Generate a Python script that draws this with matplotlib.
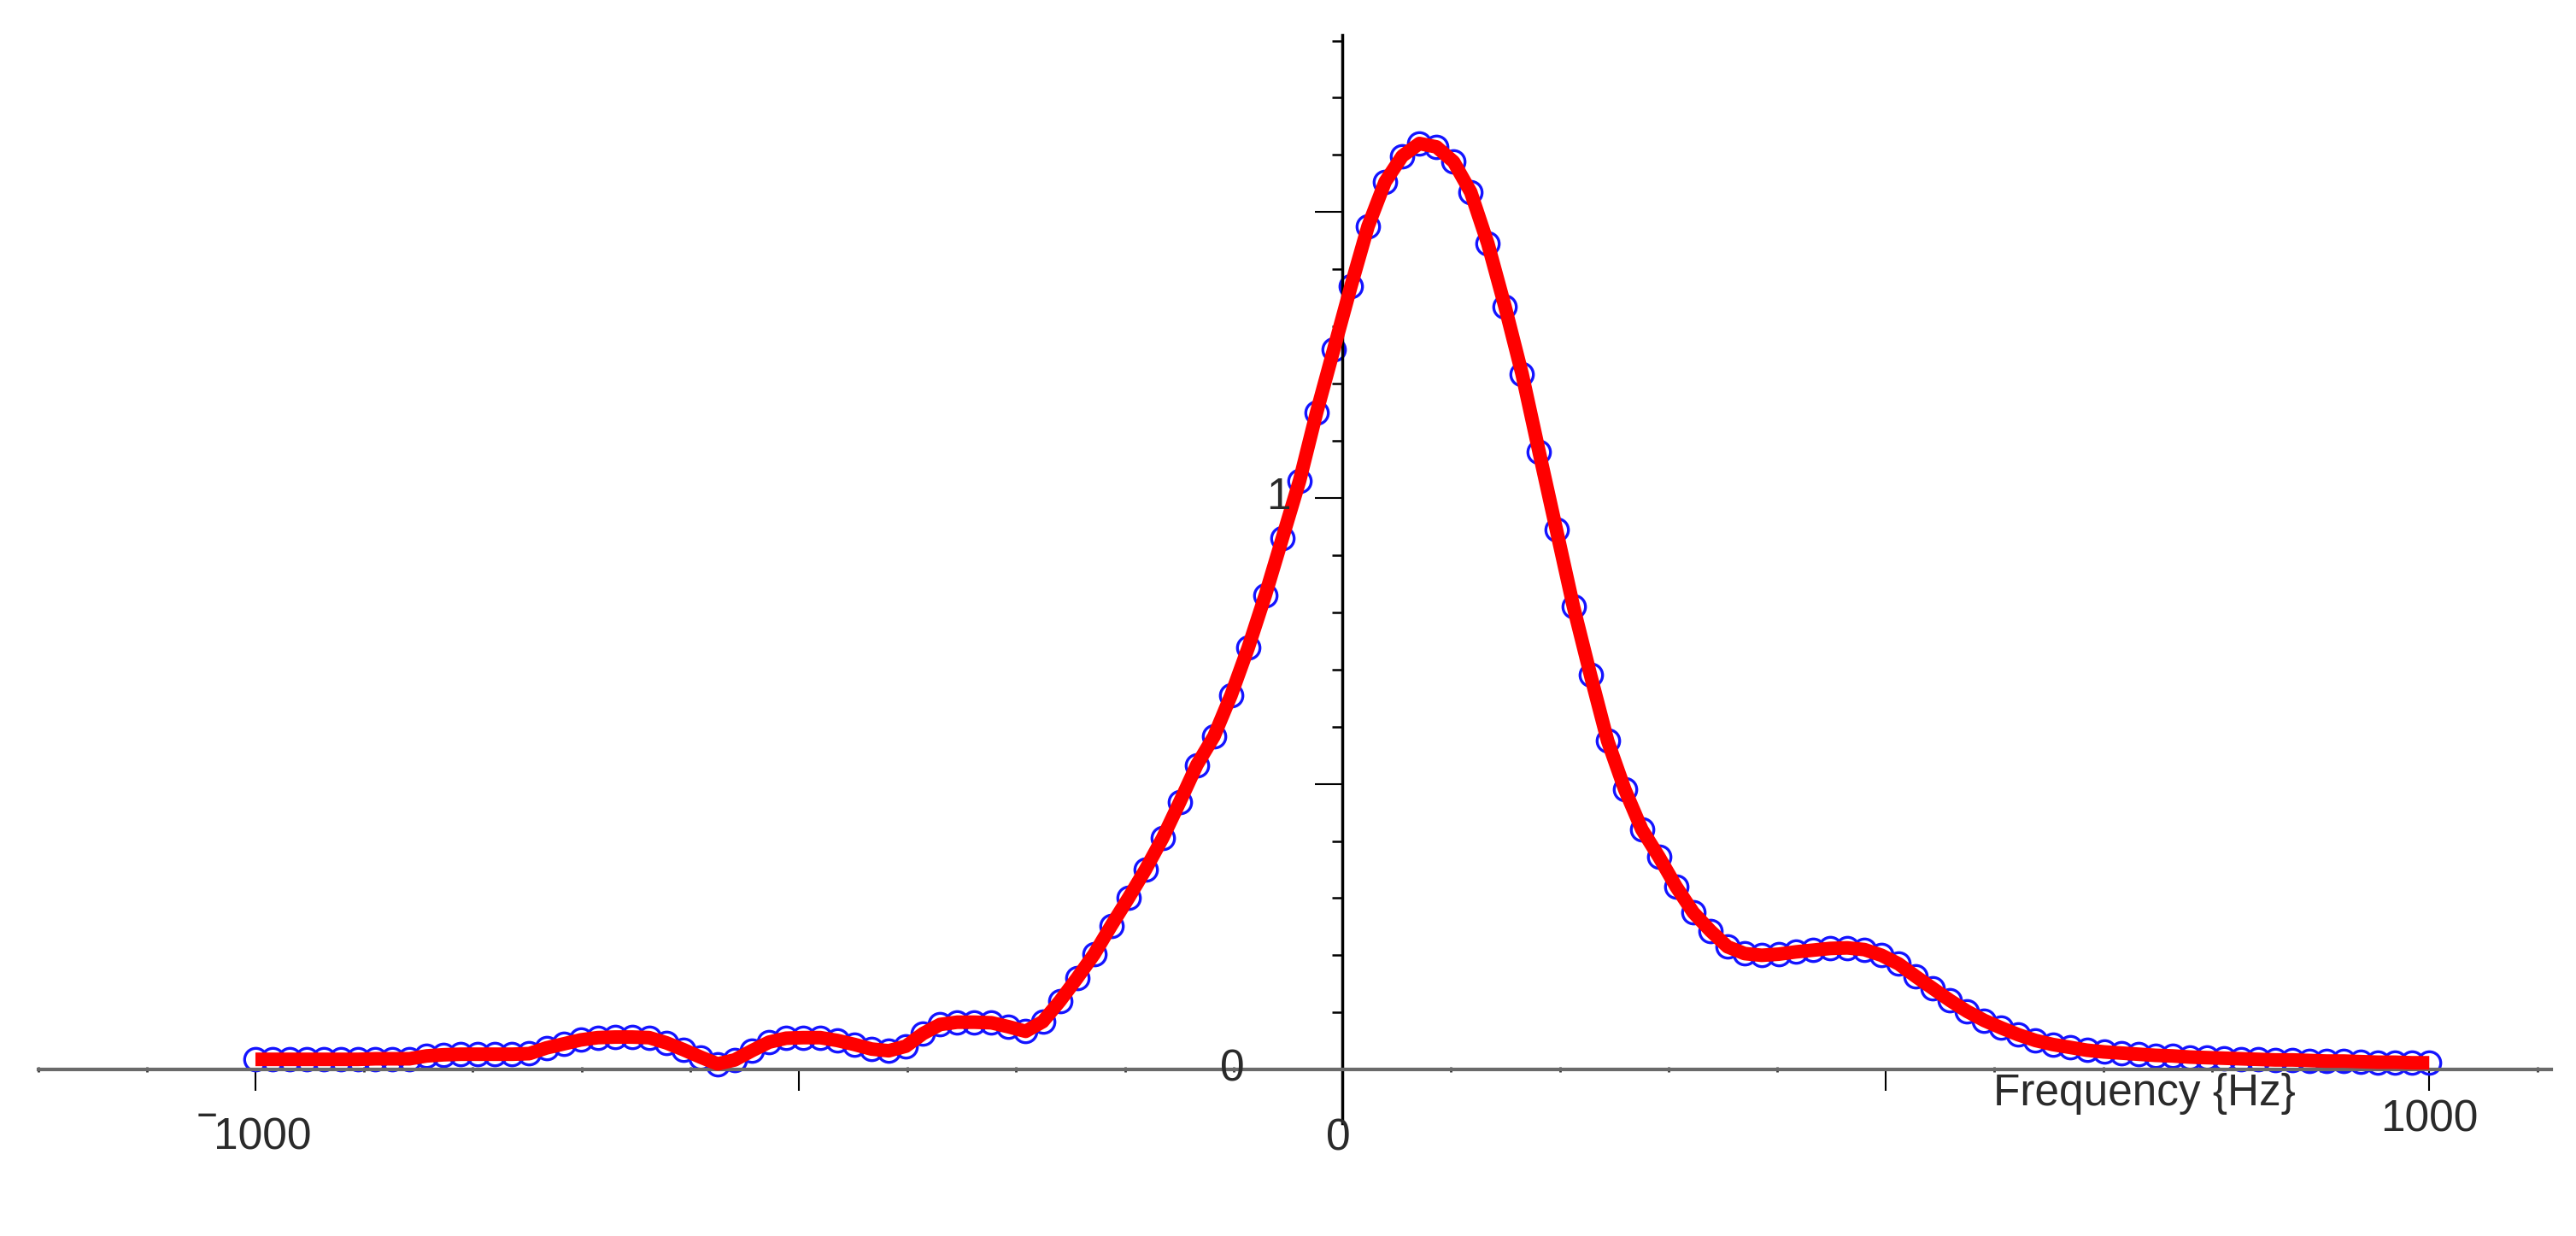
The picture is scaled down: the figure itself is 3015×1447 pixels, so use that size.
import numpy as np
import matplotlib.pyplot as plt
from matplotlib.ticker import FixedLocator

# ----- datos -----
# frecuencias de muestreo (128 puntos de -1000 a 1000 Hz)
freq = np.linspace(-1000, 1000, 128)

magnitud = [
    0.018, 0.018, 0.018, 0.018, 0.018, 0.018, 0.018, 0.019, 0.019, 0.019,
    0.024, 0.026, 0.027, 0.027, 0.027, 0.027, 0.028, 0.038, 0.045, 0.052,
    0.056, 0.057, 0.057, 0.056, 0.047, 0.035, 0.022, 0.010, 0.017, 0.033,
    0.048, 0.055, 0.056, 0.056, 0.051, 0.044, 0.036, 0.033, 0.041, 0.063,
    0.079, 0.083, 0.083, 0.082, 0.075, 0.067, 0.084, 0.120, 0.160, 0.202,
    0.252, 0.300, 0.350, 0.405, 0.468, 0.533, 0.583, 0.655, 0.738, 0.830,
    0.930, 1.030, 1.150, 1.260, 1.370, 1.475, 1.553, 1.598, 1.620, 1.614,
    1.588, 1.535, 1.445, 1.335, 1.217, 1.080, 0.945, 0.810, 0.690, 0.575,
    0.490, 0.420, 0.372, 0.320, 0.275, 0.243, 0.215, 0.203, 0.200, 0.202,
    0.206, 0.209, 0.212, 0.213, 0.210, 0.200, 0.185, 0.163, 0.142, 0.121,
    0.102, 0.086, 0.073, 0.061, 0.051, 0.044, 0.039, 0.034, 0.031, 0.029,
    0.027, 0.025, 0.024, 0.022, 0.021, 0.020, 0.019, 0.018, 0.017, 0.017,
    0.016, 0.015, 0.015, 0.014, 0.013, 0.013, 0.012, 0.012,
]

x_ticks_major = [-1000, -500, 500, 1000]
x_ticks_minor = [v for v in range(-1200, 1200, 100) if v not in (-1000, -500, 0, 500, 1000)]
y_ticks_major = [0.5, 1.0, 1.5]
y_ticks_minor = [round(0.1 * k, 1) for k in range(1, 19) if k not in (5, 10, 15)]

plt.rcParams['font.family'] = ['Liberation Sans', 'DejaVu Sans']
color_texto = "#2a2a2a"

fig = plt.figure(figsize=(30.15, 14.47), dpi=100)
ax = fig.add_axes([0, 0, 1, 1])
ax.set_xlim(-1235, 1135)
ax.set_ylim(-0.291, 1.871)

# curva: círculos azules y línea roja encima
ax.plot(freq, magnitud, linestyle="none", marker="o", markersize=19,
        markerfacecolor="none", markeredgecolor="#1414ff", markeredgewidth=2.4, zorder=2)
ax.plot(freq, magnitud, color="#ff0000", linewidth=11.5, solid_capstyle="butt",
        solid_joinstyle="round", zorder=3)

# ejes estilo Maple cruzando en el origen
for s in ("top", "right"):
    ax.spines[s].set_visible(False)
ax.spines["bottom"].set_position(("data", 0))
ax.spines["bottom"].set_bounds(-1200, 1112)
ax.spines["bottom"].set_color("#6a6a6a")
ax.spines["bottom"].set_linewidth(3)
ax.spines["left"].set_position(("data", 0))
ax.spines["left"].set_bounds(-0.094, 1.81)
ax.spines["left"].set_color("black")
ax.spines["left"].set_linewidth(2.5)
ax.patch.set_visible(False)

ax.xaxis.set_major_locator(FixedLocator(x_ticks_major))
ax.xaxis.set_minor_locator(FixedLocator(x_ticks_minor))
ax.yaxis.set_major_locator(FixedLocator(y_ticks_major))
ax.yaxis.set_minor_locator(FixedLocator(y_ticks_minor))
ax.tick_params(axis="x", which="major", direction="out", length=18, width=1.5,
               color="black", labelbottom=False)
ax.tick_params(axis="x", which="minor", direction="inout", length=5, width=2,
               color="#333333")
ax.tick_params(axis="y", which="major", direction="out", length=23, width=1.5,
               color="black", labelleft=False)
ax.tick_params(axis="y", which="minor", direction="out", length=8.5, width=1.8,
               color="black")
# ticks de ±1000 más largos
for t in ax.xaxis.get_major_ticks():
    if abs(t.get_loc()) == 1000:
        t.tick1line.set_markersize(27)

# etiquetas
fs = 37
ax.text(-1000, -0.118, "\u203e1000", fontsize=fs, ha="center", va="center", color=color_texto)
ax.text(1000, -0.088, "1000", fontsize=fs, ha="center", va="center", color=color_texto)
ax.text(-4, -0.12, "0", fontsize=fs, ha="center", va="center", color=color_texto)
ax.text(-59, 1.0, "1", fontsize=fs, ha="center", va="center", color=color_texto)
ax.text(-101, 0.0, "0", fontsize=fs, ha="center", va="center", color=color_texto)
ax.text(738, -0.042, "Frequency {Hz}", fontsize=fs, ha="center", va="center", color=color_texto)

fig.savefig("out.png", dpi=100, facecolor="white")
